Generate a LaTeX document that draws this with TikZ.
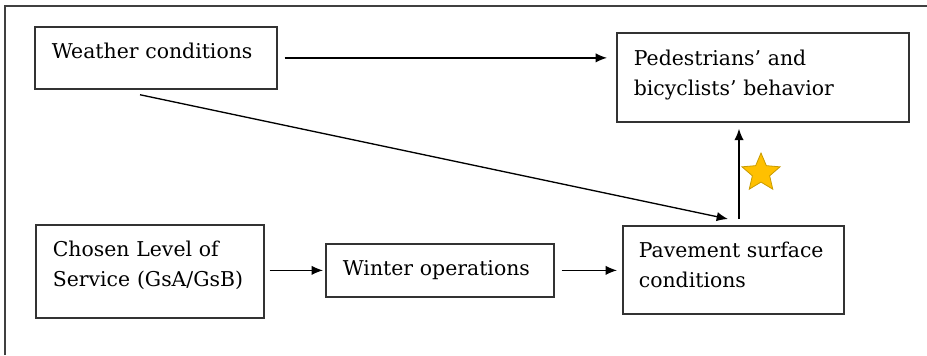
\documentclass[tikz,border=0pt]{standalone}
\usepackage{fontspec}
\setmainfont{DejaVu Serif}
\usepackage{tikz}
\usetikzlibrary{calc, arrows.meta, shapes.geometric}

\definecolor{stargold}{HTML}{FFC000}
\definecolor{staredge}{HTML}{C89B00}

\begin{document}
\begin{tikzpicture}[x=0.75pt, y=-0.75pt]
			\useasboundingbox (0,0) rectangle (927,355);
			\draw[line width=1.3pt, black!75] (5,355) -- (5,6) -- (927,6);
			
			\begin{scope}[every node/.style={draw=black!80, line width=1.3pt, anchor=north west, align=left, inner xsep=12.75pt, inner ysep=0pt, font=\fontsize{15.3}{22.5}\selectfont}]
				\node [text width=156pt, text depth=11pt, minimum height=46.5pt] (weather) at (34,26) {Weather conditions};
				\node [text width=193.5pt, text depth=29pt, minimum height=66.75pt] (ped) at (616,32) {Pedestrians' and\\bicyclists' behavior};
				\node [text width=145.5pt, text depth=33.5pt, minimum height=69.75pt] (chosen) at (35,224) {Chosen Level of\\Service (GsA/GsB)};
				\node [text width=145.5pt, minimum height=39.75pt] (winter) at (325,243) {Winter operations};
				\node [text width=141.75pt, text depth=30.5pt, inner xsep=12pt, minimum height=66pt] (pave) at (622,225) {Pavement surface\\conditions};
			\end{scope}
			
			\begin{scope}[-{Latex[length=8.5pt, width=7pt]}, line width=1pt]
				\draw[shorten <=5.25pt, shorten >=6.75pt] (weather.east) -- (weather.east -| ped.west);
				\draw ($(weather.south west)+(106,5)$) -- ($(pave.north west)+(106,-6)$);
				\draw ($(pave.north west)+(117,-6)$) -- ($(ped.south west)+(123,6)$);
				\draw[shorten <=3.75pt, shorten >=1.5pt] (chosen.east |- winter.west) -- (winter.west);
				\draw[shorten <=5.25pt, shorten >=3.75pt] (winter.east) -- (winter.east -| pave.west);
			\end{scope}
			
			\node[star, star points=5, star point ratio=2.2, fill=stargold, draw=staredge, line width=0.6pt, minimum size=30pt, inner sep=0pt] (sign) at (761,173) {};
		\end{tikzpicture}
\end{document}
